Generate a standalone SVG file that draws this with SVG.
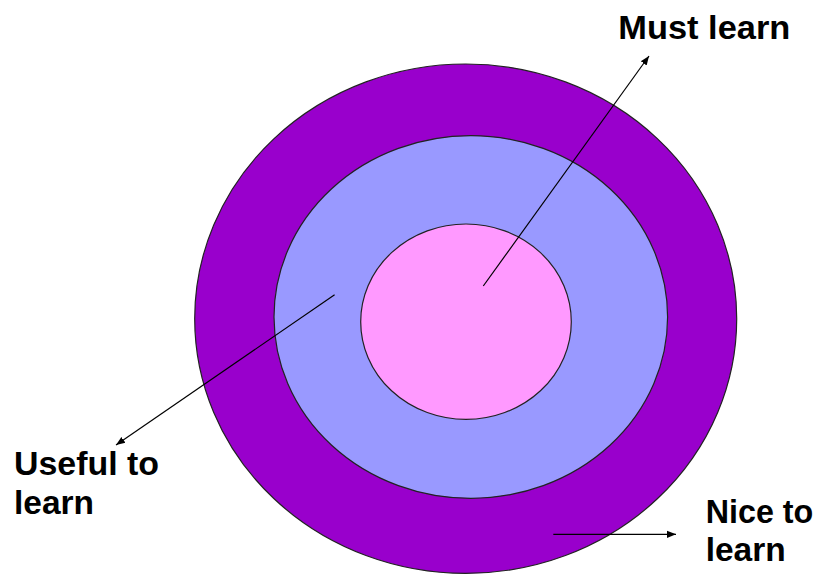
<svg xmlns="http://www.w3.org/2000/svg" width="824" height="576" viewBox="0 0 824 576">
<defs>
<style>
.ring{stroke:#222;stroke-width:1.2}
.lbl{font-family:"Liberation Sans",Arial,sans-serif;font-weight:bold;font-size:33px;fill:#000}
.conn{stroke:#000;stroke-width:1.2;fill:none;marker-end:url(#ah)}
</style>
<marker id="ah" viewBox="0 0 10 10" refX="10" refY="5" markerWidth="9" markerHeight="9" markerUnits="userSpaceOnUse" orient="auto">
<path d="M0,1 L10,5 L0,9 Z" fill="#000"/>
</marker>
</defs>
<rect width="824" height="576" fill="#fff"/>
<g id="nice-ring"><ellipse class="ring" cx="465.7" cy="318.7" rx="271" ry="254.7" fill="#9900CC"/></g>
<g id="useful-ring"><ellipse class="ring" cx="470.8" cy="317" rx="196.8" ry="181.3" fill="#9999FF"/></g>
<g id="must-core"><ellipse class="ring" cx="466" cy="321.7" rx="105.3" ry="97.7" fill="#FF99FF"/></g>
<g id="connectors">
<line class="conn" x1="483.3" y1="286" x2="649" y2="56"/>
<line class="conn" x1="334.6" y1="294.7" x2="116" y2="445"/>
<line class="conn" x1="553.3" y1="534.3" x2="676" y2="534.3"/>
</g>
<g id="label-must"><text class="lbl" x="618.3" y="39.3" textLength="172" lengthAdjust="spacingAndGlyphs">Must learn</text></g>
<g id="label-useful"><text class="lbl" x="14" y="475" textLength="145" lengthAdjust="spacingAndGlyphs">Useful to</text><text class="lbl" x="14" y="514.3" textLength="80" lengthAdjust="spacingAndGlyphs">learn</text></g>
<g id="label-nice"><text class="lbl" x="705.7" y="523" textLength="107.6" lengthAdjust="spacingAndGlyphs">Nice to</text><text class="lbl" x="705.7" y="561" textLength="80" lengthAdjust="spacingAndGlyphs">learn</text></g>
</svg>
